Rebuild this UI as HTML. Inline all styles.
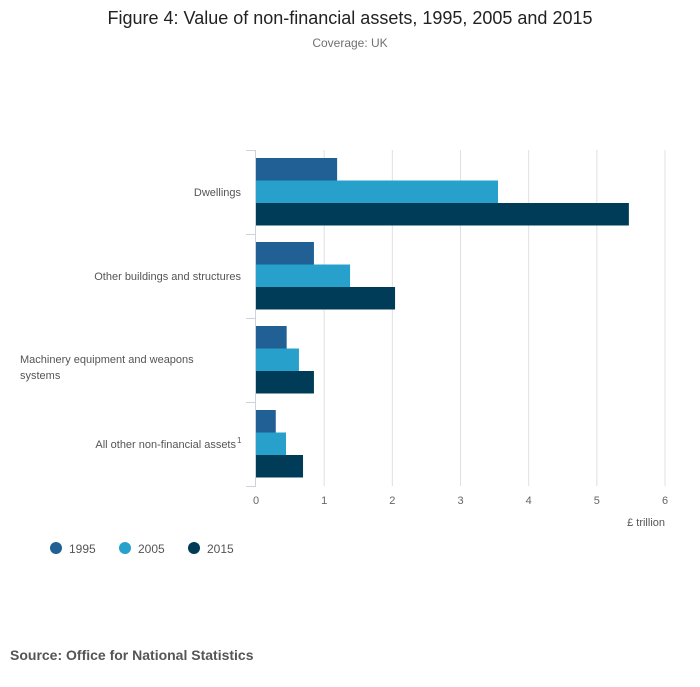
<!DOCTYPE html>
<html><head><meta charset="utf-8"><style>
body{margin:0;background:#fff;font-family:"Liberation Sans",sans-serif;}
svg text{font-family:"Liberation Sans",sans-serif;}
</style></head><body>
<svg width="700" height="682">
<text x="350" y="24" text-anchor="middle" font-size="18" fill="#222">Figure 4: Value of non-financial assets, 1995, 2005 and 2015</text>
<text x="350" y="47" text-anchor="middle" font-size="12" fill="#707070">Coverage: UK</text>
<g id="plot"></g>
<text x="665" y="526" text-anchor="end" font-size="11" fill="#555">£ trillion</text>
<g>
<circle cx="56" cy="548" r="6" fill="#206095"/><text x="69" y="553" font-size="12" fill="#555">1995</text>
<circle cx="125" cy="548" r="6" fill="#27a0cc"/><text x="138" y="553" font-size="12" fill="#555">2005</text>
<circle cx="194" cy="548" r="6" fill="#003c57"/><text x="207" y="553" font-size="12" fill="#555">2015</text>
</g>
<text x="10" y="660" font-size="14" font-weight="bold" fill="#555">Source: Office for National Statistics</text>
</svg>
<script>
const categories = ["Dwellings","Other buildings and structures","Machinery equipment and weapons systems","All other non-financial assets"];
const s1995 = [1.19,0.85,0.45,0.29];
const s2005 = [3.55,1.38,0.63,0.44];
const s2015 = [5.47,2.04,0.85,0.69];
const ticks = [0,1,2,3,4,5,6];
const NS="http://www.w3.org/2000/svg";
const g=document.getElementById('plot');
const x0=256,x1=665,xmax=6,y0=150,band=84;
const xs=v=>x0+v/xmax*(x1-x0);
function mk(t,a){const e=document.createElementNS(NS,t);for(const k in a)e.setAttribute(k,a[k]);g.appendChild(e);return e;}
ticks.forEach(t=>{
 if(t>0){const l=mk('line',{x1:xs(t),x2:xs(t),y1:y0,y2:y0+band*4,stroke:'#e0e0e0'});
 
 }
 const tx=mk('text',{x:xs(t),y:504,'text-anchor':'middle','font-size':11,fill:'#666'});tx.textContent=t;
 
 
});
const ax=mk('line',{x1:255.5,x2:255.5,y1:y0,y2:y0+band*4,stroke:'#ccd3de'});


for(let i=0;i<=4;i++){const t=mk('line',{x1:246,x2:256,y1:y0+band*i+0.5,y2:y0+band*i+0.5,stroke:'#ccd3de'});
 
 }
const series=[[s1995,'#206095','1995'],[s2005,'#27a0cc','2005'],[s2015,'#003c57','2015']];
categories.forEach((c,i)=>{
 const top=y0+band*i;
 series.forEach((s,j)=>{
  const r=mk('rect',{x:x0,y:top+8+j*22.5,width:xs(s[0][i])-x0,height:22.5,fill:s[1]});
  
  
 });
 const cy=top+band/2;
 if(i==2){
  const t=mk('text',{x:20,y:cy+3,'font-size':11,fill:'#555'});t.textContent="Machinery equipment and weapons";
  
  
  const t2=mk('text',{x:20,y:cy+19,'font-size':11,fill:'#555'});t2.textContent="systems";
  
  
 } else {
  const t=mk('text',{x:i==3?236:241,y:cy+4,'text-anchor':'end','font-size':11,fill:'#555'});t.textContent=c;
  
  
  if(i==3){const s=mk('text',{x:237,y:cy-1,'font-size':8,fill:'#555'});s.textContent="1";
   
   }
 }
});
</script>
</body></html>
